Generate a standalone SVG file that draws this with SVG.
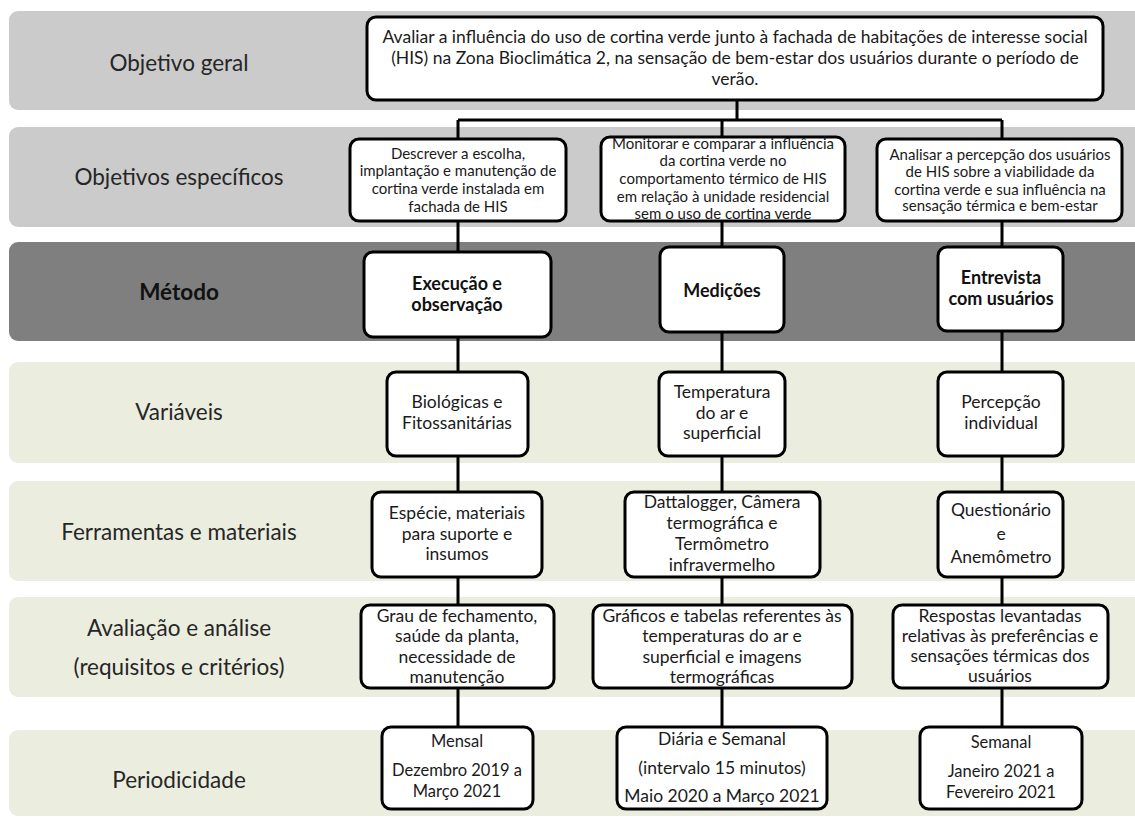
<svg xmlns="http://www.w3.org/2000/svg" width="1135" height="823" viewBox="0 0 1135 823">
<style>
.bg{fill:#ffffff}
.bl{fill:#cbcbcb}
.bd{fill:#7f7f7f}
.bgn{fill:#ebeedf}
.lab{font-family:Lato,"Liberation Sans",sans-serif;font-size:22.5px;fill:#262626;text-anchor:middle}
.labb{font-family:Lato,"Liberation Sans",sans-serif;font-size:22.5px;font-weight:bold;fill:#111;text-anchor:middle}
.box{fill:#ffffff;stroke:#000;stroke-width:3}
.t16{font-family:Lato,"Liberation Sans",sans-serif;font-size:17.5px;fill:#1a1a1a;text-anchor:middle}
.tp{font-family:Lato,"Liberation Sans",sans-serif;font-size:16.5px;fill:#1a1a1a;text-anchor:middle}
.t17{font-family:Lato,"Liberation Sans",sans-serif;font-size:17.5px;fill:#1a1a1a;text-anchor:middle}
.t15{font-family:Lato,"Liberation Sans",sans-serif;font-size:15px;fill:#1a1a1a;text-anchor:middle}
.tb{font-family:Lato,"Liberation Sans",sans-serif;font-size:18px;font-weight:bold;fill:#111;text-anchor:middle}
.con{fill:none;stroke:#000;stroke-width:3}
</style>
<rect class="bg" x="0" y="0" width="1135" height="823"/>
<g id="bands">
<rect class="bl" x="9" y="11" width="1140" height="99" rx="9"/>
<rect class="bl" x="9" y="127" width="1140" height="100" rx="9"/>
<rect class="bd" x="9" y="242" width="1140" height="99" rx="9"/>
<rect class="bgn" x="9" y="362" width="1140" height="101" rx="9"/>
<rect class="bgn" x="9" y="481" width="1140" height="100" rx="9"/>
<rect class="bgn" x="9" y="597" width="1140" height="100" rx="9"/>
<rect class="bgn" x="9" y="730" width="1140" height="86" rx="9"/>
<text class="lab" x="179" y="71">Objetivo geral</text>
<text class="lab" x="179" y="185">Objetivos específicos</text>
<text class="labb" x="179" y="300">Método</text>
<text class="lab" x="179" y="420">Variáveis</text>
<text class="lab" x="179" y="540">Ferramentas e materiais</text>
<text class="lab" x="179" y="636">Avaliação e análise</text>
<text class="lab" x="179" y="675">(requisitos e critérios)</text>
<text class="lab" x="179" y="788">Periodicidade</text>
</g>
<g id="connectors">
<path class="con" d="M737 100 V120 M458 120 H1002 M458 120 V727 M722 120 V727 M1002 120 V727"/>
</g>
<g id="n-geral">
<rect class="box" x="367" y="17" width="736" height="83" rx="9"/>
<text class="t17" x="735" y="43">Avaliar a influência do uso de cortina verde junto à fachada de habitações de interesse social</text>
<text class="t17" x="735" y="64">(HIS) na Zona Bioclimática 2, na sensação de bem-estar dos usuários durante o período  de</text>
<text class="t17" x="735" y="85">verão.</text>
</g>
<g id="n-esp1">
<rect class="box" x="350" y="139" width="216" height="82" rx="9"/>
<text class="t15" x="458" y="159">Descrever a escolha,</text>
<text class="t15" x="458" y="176">implantação e manutenção de</text>
<text class="t15" x="458" y="194">cortina verde instalada em</text>
<text class="t15" x="458" y="212">fachada de HIS</text>
</g>
<g id="n-esp2">
<rect class="box" x="601" y="137" width="244" height="84" rx="9"/>
<text class="t15" x="723" y="149">Monitorar e comparar a influência</text>
<text class="t15" x="723" y="166">da cortina verde no</text>
<text class="t15" x="723" y="184">comportamento  térmico de HIS</text>
<text class="t15" x="723" y="201.5">em  relação à unidade residencial</text>
<text class="t15" x="723" y="219">sem  o uso de cortina verde</text>
</g>
<g id="n-esp3">
<rect class="box" x="877" y="139" width="245" height="82" rx="9"/>
<text class="t15" x="1000" y="160">Analisar a percepção dos usuários</text>
<text class="t15" x="1000" y="177">de  HIS sobre a viabilidade da</text>
<text class="t15" x="1000" y="195">cortina verde e  sua influência na</text>
<text class="t15" x="1000" y="211">sensação térmica e bem-estar</text>
</g>
<g id="n-exec">
<rect class="box" x="364" y="252" width="187" height="85" rx="9"/>
<text class="tb" x="457" y="290">Execução e</text>
<text class="tb" x="457" y="311">observação</text>
</g>
<g id="n-med">
<rect class="box" x="660" y="247" width="124" height="85" rx="9"/>
<text class="tb" x="722" y="297">Medições</text>
</g>
<g id="n-entr">
<rect class="box" x="938" y="247" width="125" height="84" rx="9"/>
<text class="tb" x="1001" y="284">Entrevista</text>
<text class="tb" x="1001" y="305">com usuários</text>
</g>
<g id="n-var1">
<rect class="box" x="387" y="372" width="141" height="84" rx="9"/>
<text class="t16" x="457" y="408">Biológicas e</text>
<text class="t16" x="457" y="429">Fitossanitárias</text>
</g>
<g id="n-var2">
<rect class="box" x="659" y="372" width="126" height="84" rx="9"/>
<text class="t16" x="722" y="398">Temperatura</text>
<text class="t16" x="722" y="419">do ar e</text>
<text class="t16" x="722" y="439">superficial</text>
</g>
<g id="n-var3">
<rect class="box" x="938" y="372" width="125" height="84" rx="9"/>
<text class="t16" x="1001" y="408">Percepção</text>
<text class="t16" x="1001" y="429">individual</text>
</g>
<g id="n-fer1">
<rect class="box" x="372" y="492" width="170" height="85" rx="9"/>
<text class="t16" x="457" y="519">Espécie, materiais</text>
<text class="t16" x="457" y="540">para suporte e</text>
<text class="t16" x="457" y="560">insumos</text>
</g>
<g id="n-fer2">
<rect class="box" x="625" y="492" width="195" height="85" rx="9"/>
<text class="t16" x="722" y="508">Dattalogger, Câmera</text>
<text class="t16" x="722" y="529">termográfica e</text>
<text class="t16" x="722" y="550">Termômetro</text>
<text class="t16" x="722" y="571">infravermelho</text>
</g>
<g id="n-fer3">
<rect class="box" x="938" y="492" width="125" height="85" rx="9"/>
<text class="t16" x="1001" y="516">Questionário</text>
<text class="t16" x="1001" y="540">e</text>
<text class="t16" x="1001" y="563">Anemômetro</text>
</g>
<g id="n-ava1">
<rect class="box" x="361" y="605" width="193" height="83" rx="9"/>
<text class="t16" x="457" y="622">Grau de fechamento,</text>
<text class="t16" x="457" y="642">saúde da planta,</text>
<text class="t16" x="457" y="663">necessidade de</text>
<text class="t16" x="457" y="683">manutenção</text>
</g>
<g id="n-ava2">
<rect class="box" x="593" y="605" width="259" height="83" rx="9"/>
<text class="t16" x="722" y="622">Gráficos e tabelas referentes às</text>
<text class="t16" x="722" y="642">temperaturas  do ar e</text>
<text class="t16" x="722" y="663">superficial e imagens</text>
<text class="t16" x="722" y="683">termográficas</text>
</g>
<g id="n-ava3">
<rect class="box" x="893" y="605" width="215" height="83" rx="9"/>
<text class="t16" x="1000" y="622">Respostas levantadas</text>
<text class="t16" x="1000" y="642">relativas às preferências e</text>
<text class="t16" x="1000" y="662">sensações térmicas dos</text>
<text class="t16" x="1000" y="682">usuários</text>
</g>
<g id="n-per1">
<rect class="box" x="382" y="727" width="151" height="82" rx="9"/>
<text class="tp" x="457" y="747">Mensal</text>
<text class="tp" x="457" y="776">Dezembro  2019 a</text>
<text class="tp" x="457" y="797">Março 2021</text>
</g>
<g id="n-per2">
<rect class="box" x="617" y="727" width="210" height="82" rx="9"/>
<text class="t16" x="722" y="745">Diária e Semanal</text>
<text class="t16" x="722" y="774">(intervalo 15 minutos)</text>
<text class="t16" x="722" y="802">Maio 2020 a Março 2021</text>
</g>
<g id="n-per3">
<rect class="box" x="920" y="727" width="162" height="82" rx="9"/>
<text class="tp" x="1001" y="748">Semanal</text>
<text class="tp" x="1001" y="777">Janeiro  2021 a</text>
<text class="tp" x="1001" y="798">Fevereiro 2021</text>
</g>
</svg>
